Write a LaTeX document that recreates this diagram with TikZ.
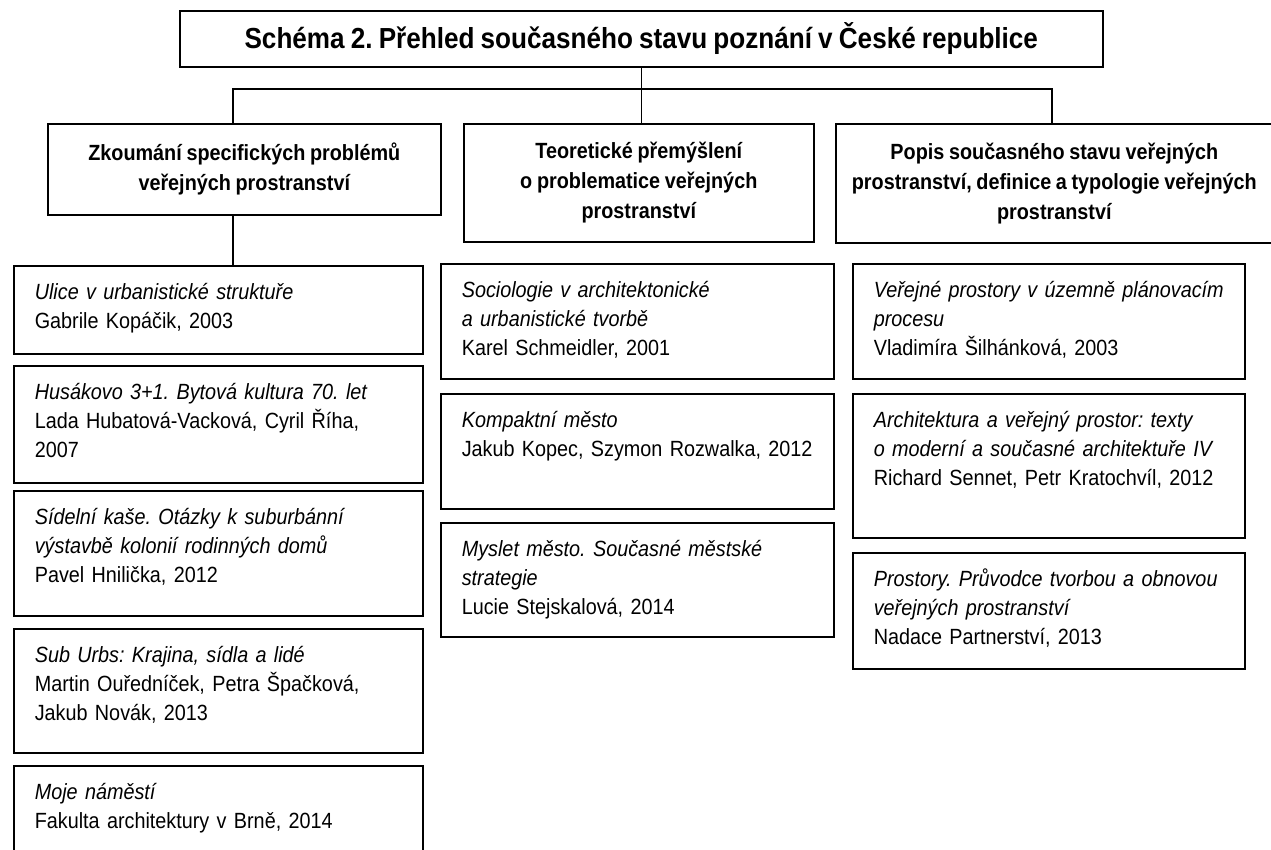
\documentclass[tikz,border=0pt]{standalone}
\usepackage{fontspec}
\newfontfamily\narrowsans[FakeStretch=0.9, WordSpace=0.85]{Liberation Sans}
\frenchspacing

\begin{document}
\begin{tikzpicture}[x=1pt, y=-1pt, line width=1.6pt,
    box/.style={draw, anchor=north west, inner sep=0pt},
    headbox/.style={box, align=center, font=\narrowsans\bfseries\fontsize{22}{30}\selectfont},
    itembox/.style={box, text height=34pt,
      font=\narrowsans\fontsize{22}{29}\selectfont,
      execute at begin node={\leftskip=21pt\rightskip=0pt plus 1fil}}]
    \useasboundingbox (0,0) rectangle (1271,850);
    \clip (0,0) rectangle (1271,850);

    % Title
    \node[box, minimum width=923pt, minimum height=56pt,
      font=\narrowsans\bfseries\fontsize{29}{34}\selectfont]
    (title) at (179,10) {Schéma 2. Přehled současného stavu poznání v České republice};

    % Headers
    \node[headbox, minimum width=393pt, minimum height=91pt] (zk) at (47,123)
    {Zkoumání specifických problémů\\ veřejných prostranství};
    \node[headbox, minimum width=350pt, minimum height=118pt] (tp) at (463,123)
    {Teoretické přemýšlení\\ o problematice veřejných\\ prostranství};
    \node[headbox, minimum width=437pt, minimum height=119pt] (po) at (835,123)
    {Popis současného stavu veřejných\\ prostranství, definice a typologie veřejných\\ prostranství};

    % Connectors
    \coordinate (hl) at (233,89);
    \coordinate (hr) at (1052,89);
    \draw (title.south) -- (title.south |- tp.north);
    \draw (hl |- zk.north) -- (hl) -- (hr) -- (hr |- po.north);

    % Left column
    \node[itembox, text width=409pt, text depth=54pt] (l1) at (13,265)
    {\textit{Ulice v urbanistické struktuře}\\ Gabrile Kopáčik, 2003};
    \node[itembox, text width=409pt, text depth=83pt] (l2) at (13,365)
    {\textit{Husákovo 3+1. Bytová kultura 70. let}\\ Lada Hubatová-Vacková, Cyril Říha,\\ 2007};
    \node[itembox, text width=409pt, text depth=91pt] (l3) at (13,490)
    {\textit{Sídelní kaše. Otázky k suburbánní}\\ \textit{výstavbě kolonií rodinných domů}\\ Pavel Hnilička, 2012};
    \node[itembox, text width=409pt, text depth=90pt] (l4) at (13,628)
    {\textit{Sub Urbs: Krajina, sídla a lidé}\\ Martin Ouředníček, Petra Špačková,\\ Jakub Novák, 2013};
    \node[itembox, text width=409pt, text depth=90pt] (l5) at (13,765)
    {\textit{Moje náměstí}\\ Fakulta architektury v Brně, 2014};
    \draw (hl |- zk.south) -- (hl |- l1.north);

    % Middle column
    \node[itembox, text width=393pt, text depth=81pt] (m1) at (440,263)
    {\textit{Sociologie v architektonické}\\ \textit{a urbanistické tvorbě}\\ Karel Schmeidler, 2001};
    \node[itembox, text width=393pt, text depth=81pt] (m2) at (440,393)
    {\textit{Kompaktní město}\\ Jakub Kopec, Szymon Rozwalka, 2012};
    \node[itembox, text width=393pt, text depth=80pt] (m3) at (440,522)
    {\textit{Myslet město. Současné městské}\\ \textit{strategie}\\ Lucie Stejskalová, 2014};

    % Right column
    \node[itembox, text width=392pt, text depth=81pt] (r1) at (852,263)
    {\textit{Veřejné prostory v územně plánovacím}\\ \textit{procesu}\\ Vladimíra Šilhánková, 2003};
    \node[itembox, text width=392pt, text depth=110pt] (r2) at (852,393)
    {\textit{Architektura a veřejný prostor: texty}\\ \textit{o moderní a současné architektuře IV}\\ Richard Sennet, Petr Kratochvíl, 2012};
    \node[itembox, text width=392pt, text depth=82pt] (r3) at (852,552)
    {\textit{Prostory. Průvodce tvorbou a obnovou}\\ \textit{veřejných prostranství}\\ Nadace Partnerství, 2013};
\end{tikzpicture}
\end{document}
